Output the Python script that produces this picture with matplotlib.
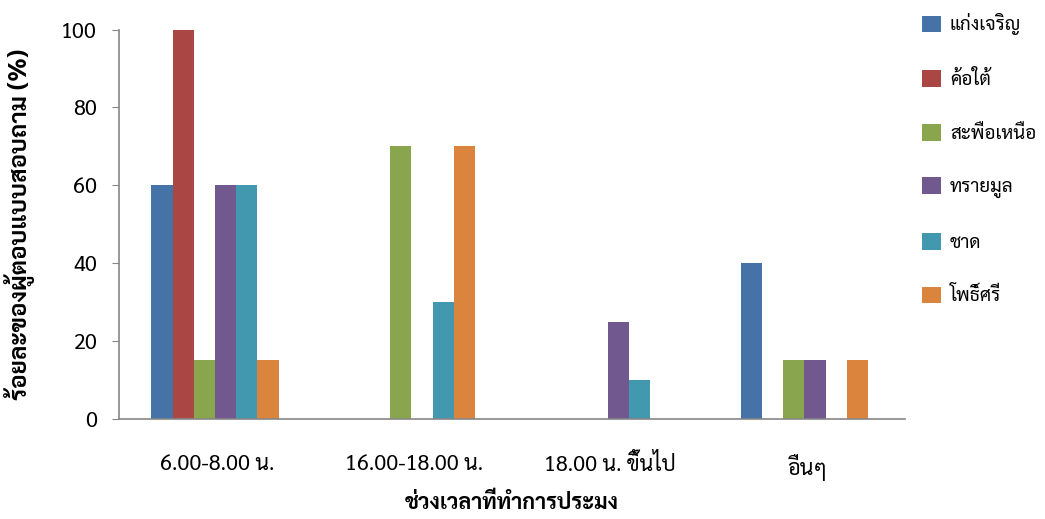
import numpy as np
import matplotlib
matplotlib.use("Agg")
import matplotlib.pyplot as plt

# -----------------------
# Data
# -----------------------
categories = ["6.00-8.00 น.", "16.00-18.00 น.", "18.00 น. ขึ้นไป", "อื่นๆ"]
series_names = ["แก่งเจริญ", "ค้อใต้", "สะพือเหนือ", "ทรายมูล", "ชาด", "โพธิ์ศรี"]
kaeng_charoen = [60, 0, 0, 40]
kho_tai = [100, 0, 0, 0]
saphue_nuea = [15, 70, 0, 15]
sai_mun = [60, 0, 25, 15]
chat = [60, 30, 10, 0]
pho_si = [15, 70, 0, 15]
series_values = [kaeng_charoen, kho_tai, saphue_nuea, sai_mun, chat, pho_si]
colors = ["#4572A7", "#AA4643", "#89A54E", "#71588F", "#4198AF", "#DB843D"]

plt.rcParams["font.family"] = ["Sarabun", "Loma", "DejaVu Sans"]

fig = plt.figure(figsize=(10.45, 5.19), dpi=100)
ax = fig.add_axes([0.114, 0.193, 0.752, 0.75])

x = np.arange(len(categories))
w = 0.108
for i, (name, vals) in enumerate(zip(series_names, series_values)):
    ax.bar(x + (i - 2.5) * w - 0.012, vals, w, color=colors[i], label=name)

ax.set_xlim(-0.5, 3.5)
ax.set_ylim(0, 100)
ax.set_yticks([0, 20, 40, 60, 80, 100])
ax.set_xticks(x)
ax.set_xticklabels(categories, fontsize=15.5)
ax.tick_params(axis="y", labelsize=15.5, color="#868686", length=5, pad=11)
ax.tick_params(axis="x", length=0, pad=25)
for s in ["top", "right"]:
    ax.spines[s].set_visible(False)
for s in ["left", "bottom"]:
    ax.spines[s].set_color("#868686")
    ax.spines[s].set_linewidth(1.2)
ax.set_xlabel("ช่วงเวลาที่ทำการประมง", fontsize=15.5, fontweight="bold", labelpad=9)
ax.set_ylabel("ร้อยละของผู้ตอบแบบสอบถาม (%)", fontsize=17.5, fontweight="bold", labelpad=19)

ax.legend(loc="upper left", bbox_to_anchor=(1.0, 1.085), frameon=False,
          fontsize=13.5, labelspacing=1.85, handlelength=1.0, handleheight=1.0,
          handletextpad=0.5)

fig.savefig("out.png", dpi=100)
